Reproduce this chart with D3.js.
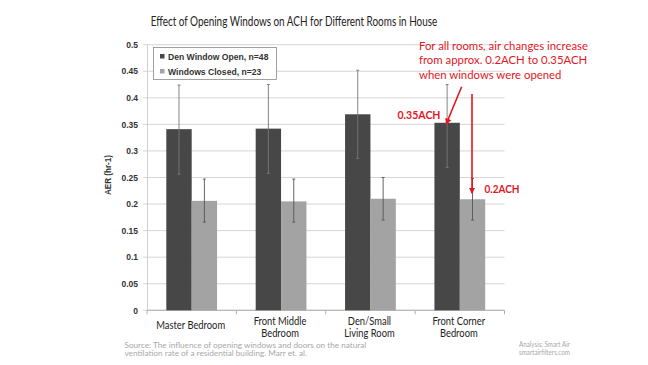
<!DOCTYPE html>
<html><head><meta charset="utf-8">
<script src="https://cdn.jsdelivr.net/npm/d3@7"></script>
<style>body{margin:0;background:#fff}svg{display:block}</style>
</head><body>
<svg id="c" width="648" height="365"></svg>
<script>
const categories = [["Master Bedroom"],["Front Middle","Bedroom"],["Den/Small","Living Room"],["Front Corner","Bedroom"]];
const seriesNames = ["Den Window Open, n=48","Windows Closed, n=23"];
const openVals = [0.341, 0.342, 0.369, 0.353];
const openHigh = [0.424, 0.425, 0.452, 0.425];
const openLow = [0.256, 0.258, 0.286, 0.269];
const closedVals = [0.206, 0.205, 0.210, 0.209];
const closedHigh = [0.247, 0.247, 0.250, 0.248];
const closedLow = [0.166, 0.166, 0.170, 0.170];
const yTicks = [0,0.05,0.1,0.15,0.2,0.25,0.3,0.35,0.4,0.45,0.5];
const colors = ["#474747","#a3a3a3"];
const red = "#e3171f";
const FONT = "Lato, 'Open Sans', sans-serif";
const BOLD = "'Liberation Sans', Arial, sans-serif";

const svg = d3.select("#c");
const m = {l:147, r:504.5, t:44.7, b:310.3};
const x = d3.scaleBand().domain(d3.range(categories.length)).range([m.l,m.r]).paddingInner(0.432).paddingOuter(0.216);
const xs = d3.scaleBand().domain([0,1]).range([0,x.bandwidth()]);
const y = d3.scaleLinear().domain([0,0.5]).range([m.b,m.t]);

// text block drawn at a font size, squeezed horizontally so a sample line has a given width
function block(parent, lines, opt){
  const g = parent.append("g");
  const t = g.append("text").style("font-family",opt.family||FONT).style("font-weight",opt.weight||"normal")
    .style("font-size",opt.size+"px").attr("fill",opt.fill).attr("text-anchor",opt.anchor||"start");
  lines.forEach((l,j)=>t.append("tspan").attr("x",0).attr("y",j*(opt.lh||0)).text(l));
  const w = t.select("tspan").node().getComputedTextLength();
  const sx = opt.width/w;
  g.attr("transform",`translate(${opt.x},${opt.y})${opt.rotate?` rotate(${opt.rotate})`:""} scale(${sx},1)`);
  return g;
}

// title
block(svg,["Effect of Opening Windows on ACH for Different Rooms in House"],{x:294,y:25.5,size:12.5,fill:"#222",anchor:"middle",width:287});

// gridlines
svg.append("g").selectAll("line").data(yTicks).join("line")
  .attr("x1",m.l-4).attr("x2",m.r).attr("y1",d=>y(d)).attr("y2",d=>y(d))
  .attr("stroke","#d6d6d6").attr("stroke-width",1);

// y axis
const ya = svg.append("g").attr("transform",`translate(${m.l},0)`)
  .call(d3.axisLeft(y).tickValues(yTicks).tickSize(0).tickPadding(9).tickFormat(d=>d3.format("")(+d.toFixed(2))));
ya.select(".domain").attr("stroke","#d0d0d0");
ya.selectAll("text").style("font-family",BOLD).style("font-weight","bold")
  .style("font-size","8.5px").attr("fill","#333");

// y title
block(svg,["AER (hr-1)"],{x:110.5,y:175,rotate:-90,size:8.2,family:BOLD,weight:"bold",fill:"#333",anchor:"middle",width:40});

// x axis
const xa = svg.append("g").attr("transform",`translate(0,${m.b})`);
xa.append("line").attr("x1",m.l).attr("x2",m.r).attr("stroke","#b0b0b0");
const bounds = d3.range(categories.length+1).map(i=> i<categories.length ? x(i)-x.step()*x.paddingOuter() : m.r);
xa.selectAll(".tk").data(bounds).join("line").attr("class","tk")
  .attr("x1",d=>d).attr("x2",d=>d).attr("y1",0).attr("y2",4).attr("stroke","#b0b0b0");

// bars
const series = [
  {vals:openVals, hi:openHigh, lo:openLow},
  {vals:closedVals, hi:closedHigh, lo:closedLow}
];
series.forEach((s,si)=>{
  svg.append("g").selectAll("rect").data(s.vals).join("rect")
    .attr("x",(d,i)=>x(i)+xs(si)).attr("width",xs.bandwidth())
    .attr("y",d=>y(d)).attr("height",d=>y(0)-y(d)).attr("fill",colors[si]);
});
series.forEach((s,si)=>{
  const col = si===0 ? "#777" : "#555";
  const g = svg.append("g").attr("stroke",col).attr("stroke-width",0.9);
  s.vals.forEach((d,i)=>{
    const cx = x(i)+xs(si)+xs.bandwidth()/2;
    g.append("line").attr("x1",cx).attr("x2",cx).attr("y1",y(s.hi[i])).attr("y2",y(s.lo[i]));
    [s.hi[i], s.lo[i]].forEach(v=>g.append("line").attr("x1",cx-1.5).attr("x2",cx+1.5).attr("y1",y(v)).attr("y2",y(v)));
  });
});

// legend
const lg = svg.append("g");
lg.append("rect").attr("x",153.5).attr("y",47.5).attr("width",123).attr("height",32).attr("fill","#fff").attr("stroke","#8a8a8a").attr("stroke-width",0.8);
seriesNames.forEach((n,i)=>{
  const yy = 56.5 + i*15;
  lg.append("rect").attr("x",160).attr("y",yy-2.5).attr("width",4.5).attr("height",4.5).attr("fill",colors[i]);
  lg.append("text").attr("x",168).attr("y",yy+3.2).style("font-family",BOLD)
    .style("font-weight","bold").style("font-size","8.6px").attr("fill","#333").text(n);
});

// category labels
const probe = svg.append("text").style("font-family",FONT).style("font-size","10.5px").text("Master Bedroom");
const catSx = 69/probe.node().getComputedTextLength(); probe.remove();
categories.forEach((lines,i)=>{
  const cx = x(i)+x.bandwidth()/2-1;
  const y0 = lines.length===1 ? 329 : 324.7;
  const g = svg.append("g").attr("transform",`translate(${cx},${y0}) scale(${catSx},1)`);
  const t = g.append("text").attr("text-anchor","middle").style("font-family",FONT).style("font-size","10.5px").attr("fill","#222");
  lines.forEach((l,j)=>t.append("tspan").attr("x",0).attr("y",j*12).text(l));
});

// source
block(svg,["Source: The influence of opening windows and doors on the natural","ventilation rate of a residential building. Marr et. al."],
  {x:124.5,y:347.5,size:7.6,lh:8.6,fill:"#a8a8a8",width:242});
block(svg,["Analysis: Smart Air","smartairfilters.com"],{x:519,y:346.5,size:7,lh:8.5,fill:"#a8a8a8",width:51});

// red annotation
block(svg,["For all rooms, air changes increase","from approx. 0.2ACH to 0.35ACH","when windows were opened"],
  {x:419,y:50,size:11.2,lh:14.5,fill:red,width:169});

const defs = svg.append("defs");
defs.append("marker").attr("id","ah").attr("viewBox","0 0 10 10").attr("refX",9).attr("refY",5)
  .attr("markerWidth",4).attr("markerHeight",4).attr("orient","auto")
  .append("path").attr("d","M0,0L10,5L0,10z").attr("fill",red);

const i4 = 3;
const darkX = x(i4)+xs(0)+xs.bandwidth()/2;
const lightX = x(i4)+xs(1)+xs.bandwidth()/2;
svg.append("line").attr("x1",darkX+14.5).attr("y1",86.7).attr("x2",darkX-1).attr("y2",y(openVals[i4])+1.5)
  .attr("stroke",red).attr("stroke-width",1.6).attr("marker-end","url(#ah)");
svg.append("line").attr("x1",lightX-0.5).attr("y1",94).attr("x2",lightX-0.5).attr("y2",y(closedVals[i4])-6)
  .attr("stroke",red).attr("stroke-width",1.6).attr("marker-end","url(#ah)");
block(svg,["0.35ACH"],{x:397.5,y:119,size:11.2,weight:"bold",fill:red,width:43});
block(svg,["0.2ACH"],{x:484.5,y:193,size:11.2,weight:"bold",fill:red,width:35});
</script>
</body></html>
